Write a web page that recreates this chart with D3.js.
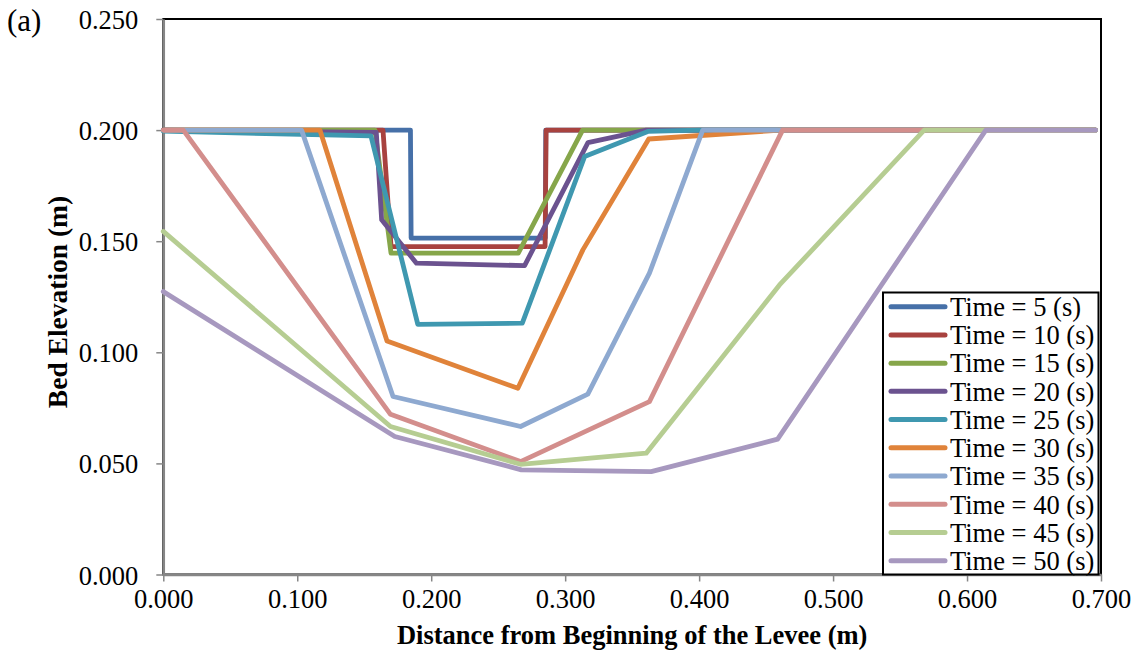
<!DOCTYPE html>
<html><head><meta charset="utf-8">
<script src="https://cdn.jsdelivr.net/npm/d3@7"></script>
<style>body{margin:0;background:#fff}svg{display:block}text{font-family:"Liberation Serif","Times New Roman",serif}</style>
</head><body><svg id="c" width="1138" height="661"></svg>
<script>
const seriesNames = ["Time = 5 (s)","Time = 10 (s)","Time = 15 (s)","Time = 20 (s)","Time = 25 (s)","Time = 30 (s)","Time = 35 (s)","Time = 40 (s)","Time = 45 (s)","Time = 50 (s)"];
const colors = ["#4670a8","#a8423f","#86a64a","#6b528f","#3f98b0","#e0833a","#8ea9d0","#d38e8c","#b6cd92","#a798bf"];
const t5x  = [0.000,0.1845,0.1850,0.2745,0.2852,0.2855,0.696];
const t5y  = [0.200,0.200,0.1514,0.1514,0.1514,0.200,0.200];
const t10x = [0.000,0.1640,0.1700,0.2850,0.2858,0.696];
const t10y = [0.200,0.200,0.1476,0.1476,0.200,0.200];
const t15x = [0.000,0.1580,0.1700,0.2650,0.3130,0.696];
const t15y = [0.200,0.200,0.1446,0.1446,0.200,0.200];
const t20x = [0.000,0.1590,0.1630,0.1890,0.2697,0.3170,0.3605,0.696];
const t20y = [0.200,0.1990,0.1596,0.1401,0.1390,0.1944,0.200,0.200];
const t25x = [0.000,0.1550,0.1900,0.2680,0.3145,0.3617,0.4000,0.696];
const t25y = [0.1995,0.1974,0.1126,0.1131,0.1881,0.1994,0.200,0.200];
const t30x = [0.000,0.1169,0.1670,0.2647,0.3132,0.3624,0.4610,0.696];
const t30y = [0.200,0.200,0.1051,0.0838,0.1461,0.1960,0.200,0.200];
const t35x = [0.000,0.1032,0.1715,0.2667,0.3169,0.3629,0.4027,0.696];
const t35y = [0.200,0.200,0.0801,0.0666,0.0812,0.1356,0.200,0.200];
const t40x = [0.000,0.0149,0.1696,0.2667,0.3629,0.4623,0.696];
const t40y = [0.200,0.200,0.0721,0.0508,0.0778,0.200,0.200];
const t45x = [0.000,0.1696,0.2667,0.3605,0.4600,0.5680,0.696];
const t45y = [0.1544,0.0666,0.0496,0.0546,0.1303,0.200,0.200];
const t50x = [0.000,0.1728,0.2673,0.3642,0.4586,0.6140,0.696];
const t50y = [0.1273,0.0621,0.0471,0.0463,0.0609,0.200,0.200];
const xTicks = [0,0.1,0.2,0.3,0.4,0.5,0.6,0.7];
const yTicks = [0,0.05,0.1,0.15,0.2,0.25];

const seriesX = [t5x,t10x,t15x,t20x,t25x,t30x,t35x,t40x,t45x,t50x];
const seriesY = [t5y,t10y,t15y,t20y,t25y,t30y,t35y,t40y,t45y,t50y];
const series = seriesNames.map((n,i)=>({name:n,color:colors[i],pts:seriesX[i].map((x,j)=>[x,seriesY[i][j]])}));

const L=163.3,R=1101,T=19,B=574.5;
const FS=26.5;
const svg=d3.select("#c");
const x=d3.scaleLinear().domain([0,0.7]).range([L,R]);
const y=d3.scaleLinear().domain([0,0.25]).range([B,T]);

svg.append("rect").attr("x",L).attr("y",T).attr("width",R-L).attr("height",B-T)
  .attr("fill","none").attr("stroke","#000").attr("stroke-width",2);

const xa=svg.append("g").attr("transform",`translate(0,${B})`)
  .call(d3.axisBottom(x).tickValues(xTicks).tickFormat(d3.format(".3f")).tickSizeOuter(0).tickSizeInner(7).tickPadding(7));
const ya=svg.append("g").attr("transform",`translate(${L},0)`)
  .call(d3.axisLeft(y).tickValues(yTicks).tickFormat(d3.format(".3f")).tickSizeOuter(0).tickSizeInner(7).tickPadding(18));
[xa,ya].forEach(a=>{
  a.select(".domain").attr("stroke","#868686").attr("stroke-width",2.5);
  a.selectAll(".tick line").attr("stroke","#868686").attr("stroke-width",1.5);
  a.selectAll("text").attr("font-size",FS).attr("fill","#000").style("font-family","'Liberation Serif',serif");
});
ya.selectAll("text").attr("dy","0.36em");
xa.selectAll("text").attr("dy","0.72em");

const line=d3.line().x(d=>x(d[0])).y(d=>y(d[1]));
svg.append("g").selectAll("path").data(series).join("path")
  .attr("d",d=>line(d.pts)).attr("fill","none").attr("stroke",d=>d.color)
  .attr("stroke-width",4.8).attr("stroke-linejoin","round").attr("stroke-linecap","round");

svg.append("text").attr("x",(L+R)/2).attr("y",644).attr("text-anchor","middle")
  .attr("font-size",FS).attr("font-weight","bold").text("Distance from Beginning of the Levee (m)");
svg.append("text").attr("transform","translate(67,302) rotate(-90)").attr("text-anchor","middle")
  .attr("font-size",27.5).attr("font-weight","bold").text("Bed Elevation (m)");
svg.append("text").attr("x",7).attr("y",31).attr("font-size",31).text("(a)");

const lg=svg.append("g");
lg.append("rect").attr("x",883).attr("y",292.5).attr("width",215.5).attr("height",282)
  .attr("fill","#fff").attr("stroke","#000").attr("stroke-width",2);
const items=lg.selectAll("g.it").data(series).join("g").attr("class","it")
  .attr("transform",(d,i)=>`translate(0,${306.7+i*28.22})`);
items.append("line").attr("x1",891).attr("x2",945).attr("stroke",d=>d.color)
  .attr("stroke-width",5).attr("stroke-linecap","round");
items.append("text").attr("x",950).attr("dy","0.35em").attr("font-size",FS).text(d=>d.name);
</script></body></html>
